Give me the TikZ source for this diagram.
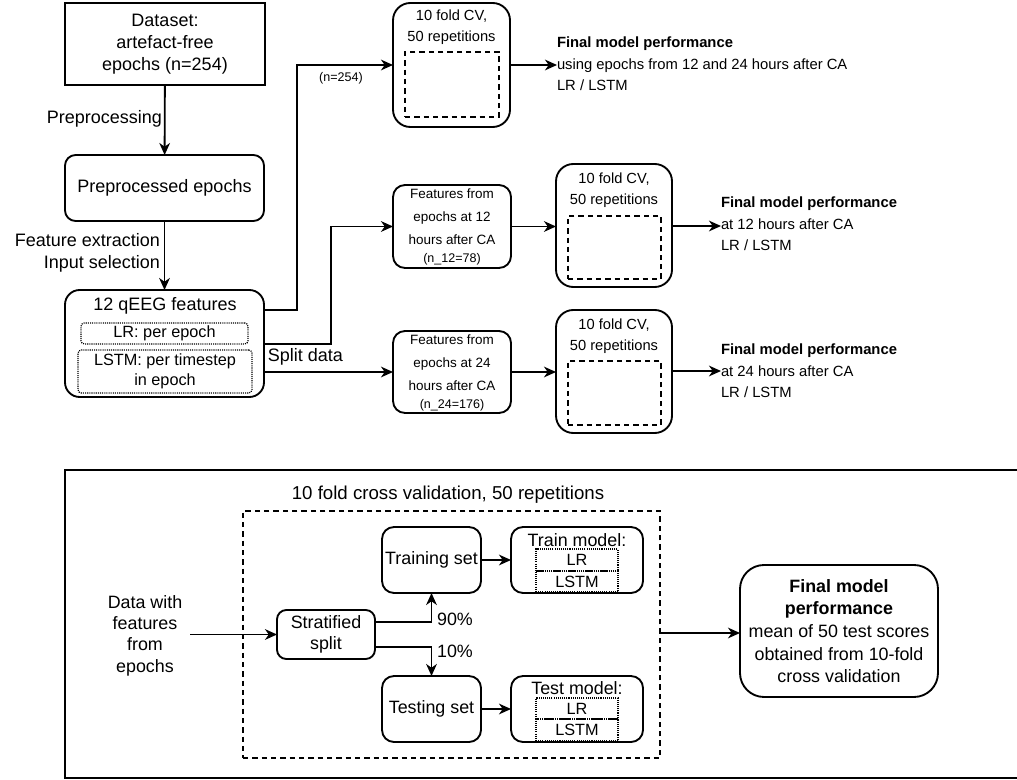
\documentclass[tikz,border=0pt]{standalone}
\usepackage{fontspec}
\setmainfont{Liberation Sans}
\usetikzlibrary{arrows.meta}
\begin{document}
\begin{tikzpicture}[x=0.75pt,y=-0.75pt,
  every node/.style={inner sep=0pt, outer sep=0pt},
  ln/.style={line width=1.4pt},
  arr/.style={line width=1.4pt, -{Stealth[length=9pt,width=8pt,inset=2.8pt]}},
  sz/.style 2 args={minimum width=#1*0.75pt, minimum height=#2*0.75pt},
  sbox/.style={draw, line width=1.4pt, rectangle},
  rbox/.style={draw, line width=1.4pt, rectangle, rounded corners=#1},
  rbox/.default=8pt,
  dashbox/.style={draw, line width=1.2pt, dash pattern=on 4pt off 3pt},
  dotbox/.style={draw, line width=0.9pt, dash pattern=on 0.8pt off 0.8pt, rounded corners=2.5pt},
  big/.style={font=\fontsize{13.5pt}{16.5pt}\selectfont},
  med/.style={font=\fontsize{12.2pt}{15pt}\selectfont},
  cvt/.style={font=\fontsize{11pt}{15.5pt}\selectfont},
  fin/.style={font=\fontsize{11.1pt}{16pt}\selectfont},
  ftx/.style={font=\fontsize{10.1pt}{17.25pt}\selectfont},
  small/.style={font=\fontsize{9.4pt}{11pt}\selectfont},
  botl/.style={font=\fontsize{13.4pt}{16pt}\selectfont},
  botm/.style={font=\fontsize{12.2pt}{14pt}\selectfont},
  bott/.style={font=\fontsize{14pt}{16pt}\selectfont},
  finb/.style={font=\fontsize{13.4pt}{17pt}\selectfont},
]
\useasboundingbox (0,0) rectangle (1017,780);
\clip (0,0) rectangle (1017,780);

% ---------------- upper pipeline ----------------
\node[sbox, sz={200}{82}, big, align=center] (data) at (165,44)
  {Dataset:\\artefact-free\\epochs (n=254)};
\node[rbox=8pt, sz={199}{66}, big] (prep) at (164.5,188) {Preprocessed epochs};
\node[rbox=11pt, sz={199}{107}] (feat) at (164.5,343.5) {};
\node[big] (feattitle) at (165,306) {12 qEEG features};
\node[dotbox, sz={167}{21}, med] (lrin) at (164.5,333.5) {LR: per epoch};
\node[dotbox, sz={174}{43}, med, align=center] (lstmin) at (165,371.5)
  {LSTM: per timestep\\in epoch};

\draw[arr] (data) -- (prep);
\node[big, anchor=east] (lprep) at (162,119) {Preprocessing};
\draw[arr] (prep) -- (feat);
\node[big, anchor=east, align=right] (lfeat) at (160,253)
  {Feature extraction\\Input selection};

% all epochs
\node[rbox=13pt, sz={117}{124}] (cv1) at (451.5,65) {};
\node[cvt, align=center] (cv1t) at (451.5,27) {10 fold CV,\\50 repetitions};
\node[dashbox, sz={94}{65}] (cv1in) at (452,84.5) {};
\node[fin, align=left, anchor=west] (fp1) at (557,64)
  {\textbf{Final model performance}\\using epochs from 12 and 24 hours after CA\\LR / LSTM};

% 12 hours
\node[rbox=9pt, sz={118}{83}] (f12) at (452,226.5) {};
\node[ftx, align=center] (f12t) at (452,217) {Features from\\epochs at 12\\hours after CA};
\node[small] (f12n) at (452,259) {(n\_12=78)};
\node[rbox=13pt, sz={116}{123}] (cv2) at (614,225.5) {};
\node[cvt, align=center] (cv2t) at (614,190.5) {10 fold CV,\\50 repetitions};
\node[dashbox, sz={93}{63}] (cv2in) at (614.5,247.5) {};
\node[fin, align=left, anchor=west] (fp2) at (721,224)
  {\textbf{Final model performance}\\at 12 hours after CA\\LR / LSTM};

% 24 hours
\node[rbox=9pt, sz={118}{82}] (f24) at (452,372) {};
\node[ftx, align=center] (f24t) at (452,363) {Features from\\epochs at 24\\hours after CA};
\node[small] (f24n) at (452,405) {(n\_24=176)};
\node[rbox=13pt, sz={116}{123}] (cv3) at (614,371.5) {};
\node[cvt, align=center] (cv3t) at (614,336) {10 fold CV,\\50 repetitions};
\node[dashbox, sz={93}{64}] (cv3in) at (614.5,393) {};
\node[fin, align=left, anchor=west] (fp3) at (721,371)
  {\textbf{Final model performance}\\at 24 hours after CA\\LR / LSTM};

% connectors out of the feature box
\draw[arr] (feat.east |- 0,310) -- (297,310) |- (cv1.west);
\node[small] (n254) at (341,78) {(n=254)};
\draw[arr] (feat.east |- 0,344) -- (331,344) |- (f12.west);
\draw[arr] (feat.east |- 0,372) -- (f24.west);
\node[big] (lsplit) at (305.5,357) {Split data};

\draw[arr] (f12.east) -- (cv2.west |- f12.east);
\draw[arr] (f24.east) -- (cv3.west |- f24.east);
\draw[arr] (cv1.east) -- (cv1.east -| fp1.west);
\draw[arr] (cv2.east |- 0,226) -- (fp2.west |- 0,226);
\draw[arr] (cv3.east |- 0,371) -- (fp3.west |- 0,371);

% ---------------- cross validation scheme ----------------
\draw[ln] (1030,470) -- (65,470) -- (65,778) -- (1030,778);
\node[bott] (cvtitle) at (448,495) {10 fold cross validation, 50 repetitions};
\node[dashbox, sz={417}{247}] (cvbox) at (451.5,634.5) {};

\node[botl, align=center, inner sep=6pt] (din) at (145,635.5)
  {Data with\\features\\from\\epochs};
\node[rbox=7pt, sz={98}{49}, botl, align=center] (split) at (326,634.5)
  {Stratified\\split};
\node[rbox=9pt, sz={99}{66}, botl] (train) at (431.5,560) {Training set};
\node[rbox=9pt, sz={99}{66}, botl] (test) at (431.5,709) {Testing set};

\node[rbox=9pt, sz={132}{66}] (trainm) at (577,560) {};
\node[botl] (trainmt) at (577,540) {Train model:};
\node[dotbox, rounded corners=0pt, sz={82}{22}, botm] (trlr) at (577,560) {LR};
\node[dotbox, rounded corners=0pt, sz={82}{21}, botm] (trlstm) at (577,581.5) {LSTM};

\node[rbox=9pt, sz={132}{66}] (testm) at (577,709) {};
\node[botl] (testmt) at (577,688) {Test model:};
\node[dotbox, rounded corners=0pt, sz={82}{21}, botm] (telr) at (577,708.5) {LR};
\node[dotbox, rounded corners=0pt, sz={82}{22}, botm] (telstm) at (577,730) {LSTM};

\node[rbox=18pt, sz={198}{132}, finb, align=center] (final) at (839,631)
  {\textbf{Final model}\\\textbf{performance}\\mean of 50 test scores\\obtained from 10-fold\\cross validation};

\draw[arr] (din.east |- split.west) -- (split.west);
\draw[arr] (split.east |- 0,622) -| (train.south);
\node[botl] (p90) at (455,619) {90\%};
\draw[arr] (split.east |- 0,647) -| (test.north);
\node[botl] (p10) at (455,651) {10\%};
\draw[arr] (train.east) -- (trainm.west);
\draw[arr] (test.east) -- (testm.west);
\draw[arr] (cvbox.east |- 0,633) -- (final.west |- 0,633);
\end{tikzpicture}
\end{document}
